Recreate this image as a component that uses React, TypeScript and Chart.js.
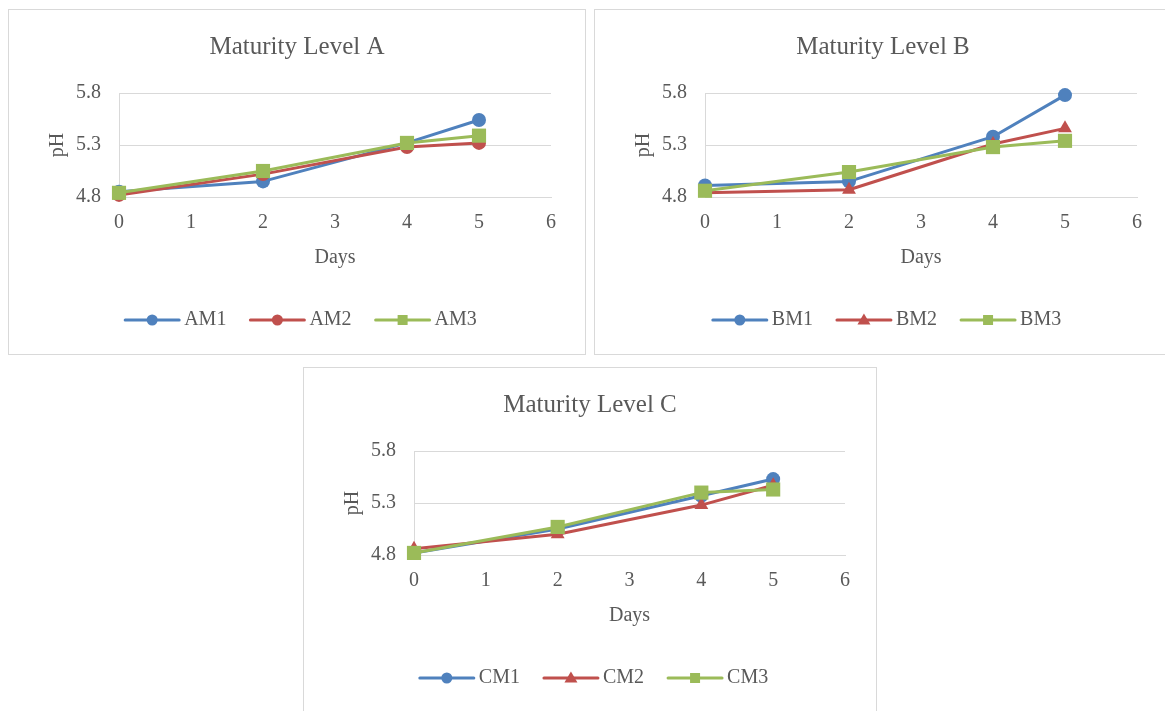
import React, { useEffect, useRef } from 'react';
import { Chart, registerables } from 'chart.js';

Chart.register(...registerables);

// ---- data ----
const days = [0, 2, 4, 5];
const yTickValues = [4.8, 5.3, 5.8];

const titleA = 'Maturity Level A';
const namesA = ['AM1', 'AM2', 'AM3'];
const am1 = [4.85, 4.95, 5.32, 5.54];
const am2 = [4.82, 5.02, 5.28, 5.32];
const am3 = [4.84, 5.05, 5.32, 5.39];

const titleB = 'Maturity Level B';
const namesB = ['BM1', 'BM2', 'BM3'];
const bm1 = [4.91, 4.95, 5.38, 5.78];
const bm2 = [4.84, 4.87, 5.31, 5.46];
const bm3 = [4.86, 5.04, 5.28, 5.34];

const titleC = 'Maturity Level C';
const namesC = ['CM1', 'CM2', 'CM3'];
const cm1 = [4.82, 5.05, 5.37, 5.53];
const cm2 = [4.86, 5.0, 5.28, 5.47];
const cm3 = [4.82, 5.07, 5.4, 5.43];

const xTitle = 'Days';
const yTitle = 'pH';

// ---- styles ----
const FONT = '"Liberation Serif", "Times New Roman", serif';
const TEXT = '#595959';
const GRID = '#D9D9D9';
const BLUE = '#4F81BD';
const RED = '#C0504D';
const GREEN = '#9BBB59';

function drawMarker(ctx: CanvasRenderingContext2D, style: string, x: number, y: number, color: string) {
  ctx.fillStyle = color;
  ctx.beginPath();
  if (style === 'circle') {
    ctx.arc(x, y, 5.5, 0, Math.PI * 2);
  } else if (style === 'triangle') {
    ctx.moveTo(x, y - 6.5);
    ctx.lineTo(x + 6.5, y + 4.5);
    ctx.lineTo(x - 6.5, y + 4.5);
    ctx.closePath();
  } else {
    ctx.rect(x - 5, y - 5, 10, 10);
  }
  ctx.fill();
}

// Draws the chart title (centred on the whole box) and an Excel-like legend (line + marker).
const excelDecor = {
  id: 'excelDecor',
  afterDraw(chart: any, _args: any, opts: any) {
    const ctx: CanvasRenderingContext2D = chart.ctx;
    ctx.save();
    // title
    ctx.font = `25px ${FONT}`;
    ctx.fillStyle = TEXT;
    ctx.textAlign = 'center';
    ctx.textBaseline = 'middle';
    ctx.fillText(opts.title, chart.width / 2, opts.titleY);

    // legend
    ctx.font = `20px ${FONT}`;
    const lineLen = 54;
    const gapText = 5;
    const gapItem = 24;
    const items = chart.data.datasets.map((ds: any) => ({ ds, w: ctx.measureText(ds.label).width }));
    const total =
      items.reduce((s: number, it: any) => s + lineLen + gapText + it.w, 0) + gapItem * (items.length - 1);
    let x = chart.width / 2 + (opts.offsetX || 0) - total / 2;
    const y = opts.legendY;
    for (const it of items) {
      ctx.strokeStyle = it.ds.borderColor;
      ctx.lineWidth = 3;
      ctx.lineCap = 'round';
      ctx.beginPath();
      ctx.moveTo(x, y);
      ctx.lineTo(x + lineLen, y);
      ctx.stroke();
      drawMarker(ctx, it.ds.pointStyle, x + lineLen / 2, y, it.ds.borderColor);
      ctx.fillStyle = TEXT;
      ctx.textAlign = 'left';
      ctx.textBaseline = 'middle';
      ctx.fillText(it.ds.label, x + lineLen + gapText, y);
      x += lineLen + gapText + it.w + gapItem;
    }
    ctx.restore();
  },
};

function pointRadiusFor(style: string) {
  if (style === 'rect') return 10;
  if (style === 'triangle') return 8;
  return 7;
}

function makeDataset(label: string, values: number[], color: string, style: string, order: number) {
  return {
    label,
    data: days.map((d, i) => ({ x: d, y: values[i] })),
    borderColor: color,
    backgroundColor: color,
    borderWidth: 3,
    pointStyle: style,
    pointRadius: pointRadiusFor(style),
    pointHoverRadius: pointRadiusFor(style),
    pointBackgroundColor: color,
    pointBorderWidth: 0,
    showLine: true,
    tension: 0,
    clip: false,
    order,
    borderJoinStyle: 'round',
  };
}

function makeConfig(title: string, names: string[], series: number[][], styles: string[], rightPad: number): any {
  const colors = [BLUE, RED, GREEN];
  return {
    type: 'scatter',
    data: {
      datasets: series.map((s, i) => makeDataset(names[i], s, colors[i], styles[i], 3 - i)),
    },
    plugins: [excelDecor],
    options: {
      responsive: false,
      maintainAspectRatio: false,
      animation: false,
      events: [],
      layout: { padding: { left: 0, right: rightPad, top: 83, bottom: 84 } },
      plugins: {
        legend: { display: false },
        tooltip: { enabled: false },
        title: { display: false },
        excelDecor: { title, titleY: 37, legendY: 310, offsetX: 4 },
      },
      scales: {
        x: {
          type: 'linear',
          min: 0,
          max: 6,
          ticks: { stepSize: 1, color: TEXT, font: { family: FONT, size: 20 }, padding: 14 },
          grid: { display: false, drawTicks: false },
          border: { display: true, color: GRID, width: 1 },
          title: {
            display: true,
            text: xTitle,
            color: TEXT,
            font: { family: FONT, size: 20 },
            padding: { top: 0, bottom: 0 },
          },
          afterFit: (s: any) => {
            s.height = 73;
          },
        },
        y: {
          type: 'linear',
          min: 4.8,
          max: 5.8,
          afterBuildTicks: (s: any) => {
            s.ticks = yTickValues.map((v) => ({ value: v }));
          },
          ticks: {
            color: TEXT,
            font: { family: FONT, size: 20 },
            padding: 18,
            callback: (v: any) => Number(v).toFixed(1),
          },
          grid: { color: GRID, lineWidth: 1, drawTicks: false },
          border: { display: true, color: GRID, width: 1 },
          title: {
            display: true,
            text: yTitle,
            color: TEXT,
            font: { family: FONT, size: 20 },
            padding: { top: 37, bottom: 0 },
          },
          afterFit: (s: any) => {
            s.width = 110;
          },
        },
      },
    },
  };
}

function ChartBox(props: { left: number; top: number; width: number; height: number; config: any }) {
  const ref = useRef<HTMLCanvasElement | null>(null);
  const { left, top, width, height, config } = props;
  useEffect(() => {
    if (!ref.current) return;
    const chart = new Chart(ref.current, config);
    return () => chart.destroy();
  }, [config]);
  const cw = width - 2;
  const ch = height - 2;
  return (
    <div
      style={{
        position: 'absolute',
        left,
        top,
        width,
        height,
        boxSizing: 'border-box',
        border: `1px solid ${GRID}`,
        background: '#fff',
      }}
    >
      <canvas ref={ref} width={cw} height={ch} style={{ display: 'block', width: cw, height: ch }} />
    </div>
  );
}

const cfgA = makeConfig(titleA, namesA, [am1, am2, am3], ['circle', 'circle', 'rect'], 34);
const cfgB = makeConfig(titleB, namesB, [bm1, bm2, bm3], ['circle', 'triangle', 'rect'], 34);
const cfgC = makeConfig(titleC, namesC, [cm1, cm2, cm3], ['circle', 'triangle', 'rect'], 31);

export default function App() {
  return (
    <div
      style={{
        position: 'absolute',
        left: 0,
        top: 0,
        width: 1165,
        height: 711,
        overflow: 'hidden',
        background: '#fff',
      }}
    >
      <ChartBox left={8} top={9} width={578} height={346} config={cfgA} />
      <ChartBox left={594} top={9} width={578} height={346} config={cfgB} />
      <ChartBox left={303} top={367} width={574} height={346} config={cfgC} />
    </div>
  );
}
